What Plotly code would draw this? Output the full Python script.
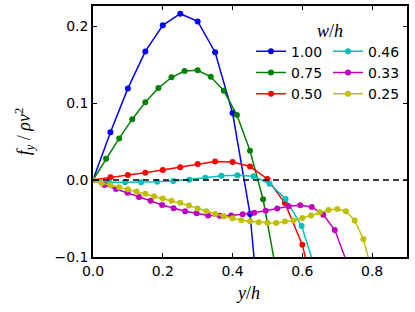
import plotly.graph_objects as go

# ---- data ----
labels = ["1.00", "0.75", "0.50", "0.46", "0.33", "0.25"]
steps = [0.05, 0.0375, 0.05, 0.046, 0.033, 0.025]

y_100 = [0, 0.062, 0.119, 0.167, 0.201, 0.216, 0.206, 0.166, 0.087, -0.044, -0.29]
y_075 = [0, 0.0275, 0.054, 0.079, 0.101, 0.1195, 0.1334, 0.1416, 0.1425, 0.134,
         0.116, 0.0844, 0.038, -0.025, -0.118]
y_050 = [0, 0.0035, 0.0065, 0.0095, 0.013, 0.0165, 0.0208, 0.024, 0.0234, 0.0175,
         0.0013, -0.030, -0.084, -0.18]
y_046 = [0, -0.003, -0.003, -0.003, -0.0022, -0.0013, 0.0004, 0.0028, 0.0056, 0.0061,
         0.0048, -0.0048, -0.0247, -0.0597, -0.126]
y_033 = [0, -0.0065, -0.0117, -0.0165, -0.022, -0.027, -0.0325, -0.0368, -0.0407,
         -0.0433, -0.046, -0.0464, -0.046, -0.0445, -0.0425, -0.040, -0.037, -0.034,
         -0.0327, -0.035, -0.045, -0.065, -0.105]
y_025 = [0, -0.0043, -0.0065, -0.0095, -0.012, -0.015, -0.018, -0.021, -0.024, -0.027,
         -0.0295, -0.033, -0.037, -0.0407, -0.0442, -0.0471, -0.0497, -0.0523, -0.0536,
         -0.055, -0.0555, -0.0558, -0.054, -0.0525, -0.0494, -0.046, -0.042, -0.039,
         -0.0377, -0.0407, -0.0525, -0.0769, -0.12]
series = [y_100, y_075, y_050, y_046, y_033, y_025]

x_ticks = [0.0, 0.2, 0.4, 0.6, 0.8]
y_ticks = [-0.1, 0.0, 0.1, 0.2]

colors = ["#0000ff", "#008000", "#ff0000", "#00bfbf", "#bf00bf", "#bfbf00"]

fig = go.Figure()
for i, (lab, st, ys) in enumerate(zip(labels, steps, series)):
    xs = [k * st for k in range(len(ys))]
    fig.add_trace(go.Scatter(
        x=xs, y=ys, mode="lines+markers", name=lab,
        line=dict(color=colors[i], width=1.5),
        marker=dict(color=colors[i], size=6),
        legend="legend" if i < 3 else "legend2",
    ))

# dashed zero line
fig.add_trace(go.Scatter(x=[0, 0.9], y=[0, 0], mode="lines", showlegend=False,
                         line=dict(color="black", width=1.5, dash="6px,4px")))

tickfont = dict(family="DejaVu Sans", size=14, color="black")
axis_common = dict(showline=True, linewidth=1.5, linecolor="black", mirror="ticks",
                   ticks="inside", ticklen=4, tickwidth=1, tickcolor="black",
                   showgrid=False, zeroline=False, tickfont=tickfont)

L, T, WP, HP = 93, 6, 314, 251


def px(wx):
    return (wx - L) / WP


def py(wy):
    return 1 - (wy - T) / HP


legfont = dict(family="DejaVu Sans", size=14, color="black")
labfont = dict(family="Liberation Serif", size=18, color="black")
fig.update_layout(
    width=415, height=312,
    margin=dict(l=L, r=415 - L - WP, t=T, b=312 - T - HP, autoexpand=False),
    plot_bgcolor="white", paper_bgcolor="white",
    xaxis=dict(range=[0, 0.9], tickvals=x_ticks, tickformat=".1f", automargin=False,
               **axis_common),
    yaxis=dict(range=[-0.1, 0.226], tickvals=y_ticks, tickformat=".1f", automargin=True,
               title=dict(text="<i>f<sub>y</sub></i> / <i>ρν</i><sup>2</sup>",
                          font=labfont, standoff=19),
               **axis_common),
    legend=dict(x=px(251), y=py(35.7), xanchor="left", yanchor="top",
                bgcolor="rgba(0,0,0,0)", font=legfont, itemwidth=30, tracegroupgap=0),
    legend2=dict(x=px(328), y=py(35.7), xanchor="left", yanchor="top",
                 bgcolor="rgba(0,0,0,0)", font=legfont, itemwidth=30, tracegroupgap=0),
    annotations=[
        dict(text="<i>w</i>/<i>h</i>", x=px(330), y=py(31),
             xref="paper", yref="paper", showarrow=False, xanchor="center", yanchor="middle",
             font=labfont),
        dict(text="<i>y</i>/<i>h</i>", x=px(248), y=py(293),
             xref="paper", yref="paper", showarrow=False, xanchor="center", yanchor="middle",
             font=labfont),
    ],
)

fig.write_html(
    "out.html",
    config={"displayModeBar": False},
    post_script=("document.body.style.margin='0';"
                 "document.body.style.overflow='hidden';"
                 "document.documentElement.style.overflow='hidden';"),
)
